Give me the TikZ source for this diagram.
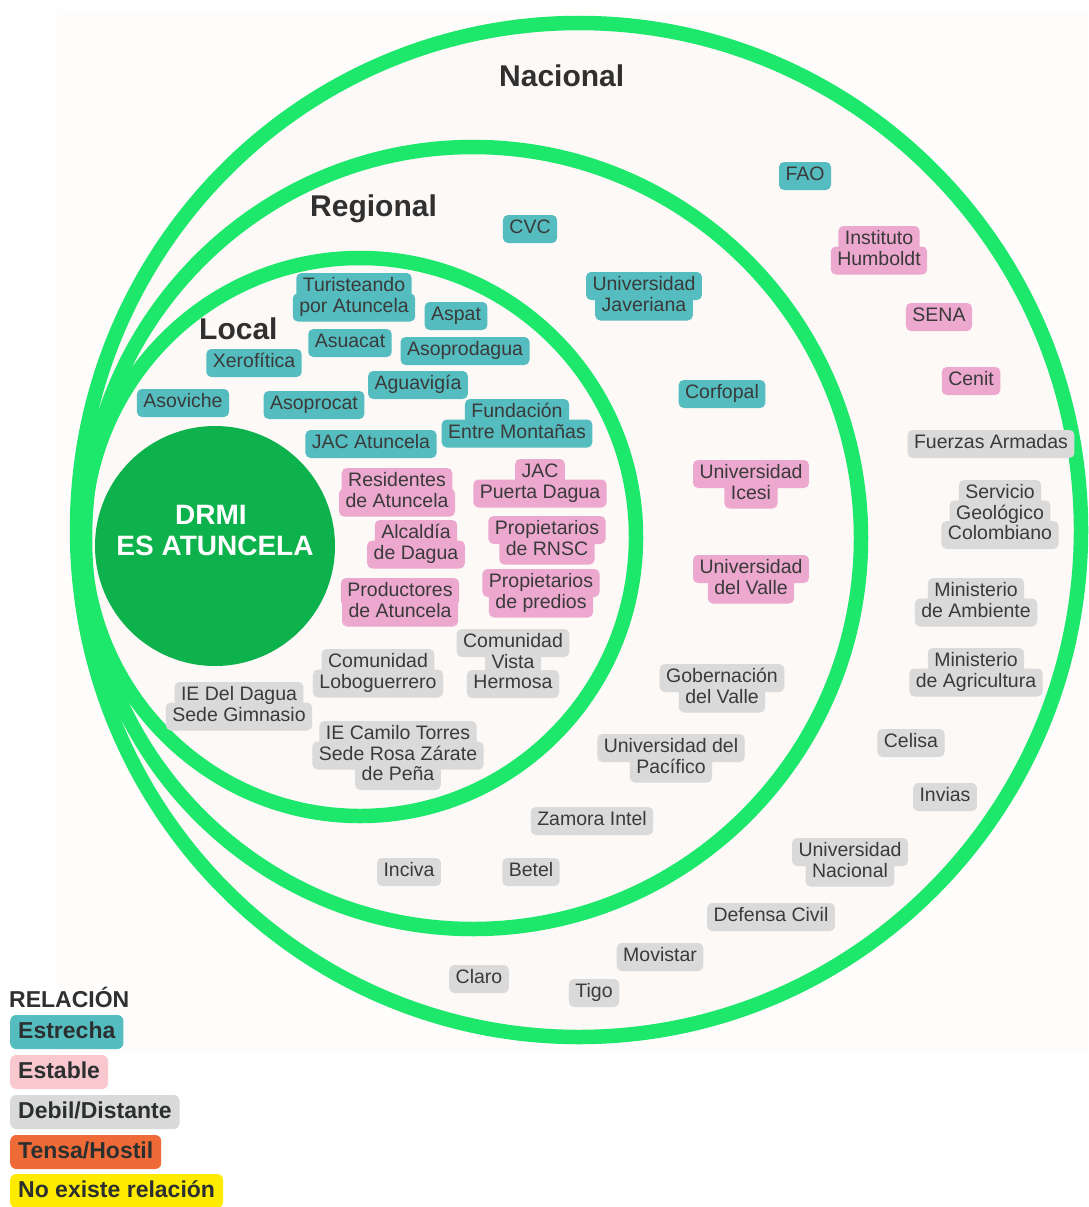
\documentclass[tikz,border=0pt]{standalone}
\usepackage{fontspec}
\setmainfont{Liberation Sans}

\definecolor{ring}{HTML}{1DE86C}
\definecolor{core}{HTML}{0EB24C}
\definecolor{paper}{HTML}{FEFDFC}
\definecolor{ringfill}{HTML}{FCF9F7}
\definecolor{tealc}{HTML}{55BDBF}
\definecolor{pinkc}{HTML}{ECA8CE}
\definecolor{grayc}{HTML}{DADADA}
\definecolor{pinklight}{HTML}{F9C8CE}
\definecolor{orangec}{HTML}{EE6B38}
\definecolor{yellowc}{HTML}{FFEB00}
\definecolor{ink}{HTML}{3A3A3A}
\definecolor{titleink}{HTML}{303030}
\definecolor{legendink}{HTML}{2B2F30}

% one actor label: a box per text line (drawn first), then the text lines
% #1 box style, #2 name, #3 x, #4 y of first line, #5 comma separated lines
\newcommand\actor[5]{%
  \foreach \t [count=\i] in {#5}{
    \node[#1] (#2-b\i) at (#3, {#4+(\i-1)*20.5}) {\phantom{\t}};
  }
  \foreach \t [count=\i] in {#5}{
    \node[labeltext] (#2-\i) at (#3, {#4+(\i-1)*20.5}) {\t};
  }
}

\begin{document}
\begin{tikzpicture}[x=1pt, y=-1pt,
  lblfont/.style={font=\fontsize{19.5}{20.5}\selectfont},
  lblbox/.style={lblfont, rounded corners=5pt, inner xsep=6.5pt, inner ysep=0pt,
    minimum height=28pt, text height=13.5pt, text depth=4pt},
  labeltext/.style={lblfont, inner xsep=6.5pt, inner ysep=0pt,
    minimum height=28pt, text height=13.5pt, text depth=4pt, text=ink},
  estrecha/.style={lblbox, fill=tealc},
  estable/.style={lblbox, fill=pinkc},
  debil/.style={lblbox, fill=grayc},
  ringline/.style={draw=ring, line width=14.5pt},
  scopetitle/.style={anchor=base west, inner sep=0pt, text=titleink,
    font=\bfseries\fontsize{30}{34}\selectfont},
  coretext/.style={anchor=base, inner sep=0pt, text=white,
    font=\bfseries\fontsize{28}{31}\selectfont},
  legendbox/.style={anchor=west, rounded corners=6pt, inner xsep=8pt, inner ysep=0pt,
    minimum height=34pt, text height=16.5pt, text depth=4.5pt, text=legendink,
    font=\bfseries\fontsize{23}{26}\selectfont}
]
\useasboundingbox (0,0) rectangle (1088,1207);
\fill[white] (0,0) rectangle (1088,1207);
\fill[paper] (57,10) rectangle (1088,1053);

% concentric scopes
\fill[ringfill] (579,530) ellipse [x radius=502, y radius=507];
\draw[ringline] (579,530) ellipse [x radius=502, y radius=507];
\draw[ringline] (473,538) ellipse [x radius=388, y radius=391];
\draw[ringline] (360,537) ellipse [x radius=276, y radius=279];

% core area
\node[circle, fill=core, minimum size=240pt, inner sep=0pt] (drmi) at (215,546) {};
\node[coretext] (drmi1) at (211,524) {DRMI};
\node[coretext] (drmi2) at (215,555) {ES ATUNCELA};

% scope titles
\node[scopetitle] (tnac) at (499,86) {Nacional};
\node[scopetitle] (treg) at (310,216) {Regional};
\node[scopetitle] (tloc) at (199,339) {Local};

% close relations
\actor{estrecha}{tur}{354}{287}{Turisteando, por Atuncela}
\actor{estrecha}{aspat}{456}{316}{Aspat}
\actor{estrecha}{asuacat}{350}{343}{Asuacat}
\actor{estrecha}{asoprodagua}{465}{351}{Asoprodagua}
\actor{estrecha}{xero}{254}{363}{Xerofítica}
\actor{estrecha}{aguavigia}{418}{385}{Aguavigía}
\actor{estrecha}{asoviche}{183}{403}{Asoviche}
\actor{estrecha}{asoprocat}{314}{405}{Asoprocat}
\actor{estrecha}{fund}{517}{413}{Fundación, Entre Montañas}
\actor{estrecha}{jacat}{371}{444}{JAC Atuncela}
\actor{estrecha}{cvc}{530}{229}{CVC}
\actor{estrecha}{jav}{644}{286}{Universidad, Javeriana}
\actor{estrecha}{corf}{722}{394}{Corfopal}
\actor{estrecha}{fao}{805}{176}{FAO}

% stable relations
\actor{estable}{res}{397}{482}{Residentes, de Atuncela}
\actor{estable}{jacpd}{540}{473}{JAC, Puerta Dagua}
\actor{estable}{alc}{416}{534}{Alcaldía, de Dagua}
\actor{estable}{prnsc}{547}{530}{Propietarios, de RNSC}
\actor{estable}{prod}{400}{592}{Productores, de Atuncela}
\actor{estable}{ppred}{541}{583}{Propietarios, de predios}
\actor{estable}{icesi}{751}{474}{Universidad, Icesi}
\actor{estable}{uvalle}{751}{569}{Universidad, del Valle}
\actor{estable}{humb}{879}{240}{Instituto, Humboldt}
\actor{estable}{sena}{939}{317}{SENA}
\actor{estable}{cenit}{971}{381}{Cenit}

% weak or distant relations
\actor{debil}{vista}{513}{643}{Comunidad, Vista, Hermosa}
\actor{debil}{lobo}{378}{663}{Comunidad, Loboguerrero}
\actor{debil}{iedel}{239}{696}{IE Del Dagua, Sede Gimnasio}
\actor{debil}{iecam}{398}{735}{IE Camilo Torres, Sede Rosa Zárate, de Peña}
\actor{debil}{gob}{722}{678}{Gobernación, del Valle}
\actor{debil}{upac}{671}{748}{Universidad del, Pacífico}
\actor{debil}{zam}{592}{821}{Zamora Intel}
\actor{debil}{inciva}{409}{872}{Inciva}
\actor{debil}{betel}{531}{872}{Betel}
\actor{debil}{fuerzas}{991}{444}{Fuerzas Armadas}
\actor{debil}{sgc}{1000}{494}{Servicio, Geológico, Colombiano}
\actor{debil}{minamb}{976}{592}{Ministerio, de Ambiente}
\actor{debil}{minagr}{976}{662}{Ministerio, de Agricultura}
\actor{debil}{celisa}{911}{743}{Celisa}
\actor{debil}{invias}{945}{797}{Invias}
\actor{debil}{unal}{850}{852}{Universidad, Nacional}
\actor{debil}{defensa}{771}{917}{Defensa Civil}
\actor{debil}{movistar}{660}{957}{Movistar}
\actor{debil}{claro}{479}{979}{Claro}
\actor{debil}{tigo}{594}{993}{Tigo}

% legend
\node[anchor=base west, inner sep=0pt, text=titleink,
      font=\bfseries\fontsize{23}{26}\selectfont] (rel) at (9,1007) {RELACIÓN};
\node[legendbox, fill=tealc] (lg1) at (10,1032) {Estrecha};
\node[legendbox, fill=pinklight] (lg2) at (10,1072) {Estable};
\node[legendbox, fill=grayc] (lg3) at (10,1112) {Debil/Distante};
\node[legendbox, fill=orangec] (lg4) at (10,1152) {Tensa/Hostil};
\node[legendbox, fill=yellowc] (lg5) at (10,1191) {No existe relación};
\end{tikzpicture}
\end{document}
